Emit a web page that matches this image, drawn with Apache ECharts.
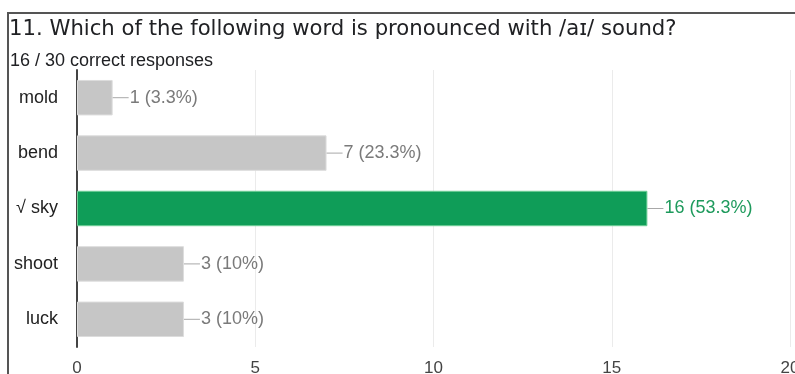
<!DOCTYPE html>
<html>
<head>
<meta charset="utf-8">
<script src="https://cdn.jsdelivr.net/npm/echarts@6/dist/echarts.min.js"></script>
<style>
  html, body { margin: 0; padding: 0; background: #fff; }
  #chart { width: 795px; height: 374px; }
</style>
</head>
<body>
<div id="chart"></div>
<script>
// Quiz question results: answer options and how many respondents chose each
const questionTitle = '11. Which of the following word is pronounced with /aɪ/ sound?';
const totalResponses = 30;
const correctResponses = 16;
const categories = ['mold', 'bend', '√ sky', 'shoot', 'luck'];
const counts = [1, 7, 16, 3, 3];
const correctIndex = 2;
const axisTicks = [0, 5, 10, 15, 20];

const GREY = '#c6c6c6';
const GREEN = '#0f9d58';
const SANS = '"Liberation Sans", Arial, sans-serif';

function pct(v) {
  const p = Math.round(v / totalResponses * 1000) / 10;
  return (p % 1 === 0 ? p.toFixed(0) : p.toFixed(1)) + '%';
}

const barData = counts.map((v, i) => {
  const correct = i === correctIndex;
  return {
    value: v,
    itemStyle: {
      color: correct ? GREEN : GREY,
      borderColor: correct ? '#6fcf97' : '#dcdcdc',
      borderWidth: 1
    },
    label: {
      rich: {
        ln: { width: 16, height: 1, backgroundColor: '#a8a8a8' },
        v: {
          fontFamily: SANS,
          fontSize: 18,
          color: correct ? '#1e9a5c' : '#7a7a7a',
          padding: [0, 0, 0, 1]
        }
      }
    }
  };
});

const chart = echarts.init(document.getElementById('chart'), null, { renderer: 'canvas' });

chart.setOption({
  animation: false,
  backgroundColor: '#fff',
  title: [
    {
      text: questionTitle,
      left: 9,
      top: 19,
      padding: 0,
      textStyle: {
        fontFamily: '"DejaVu Sans", sans-serif',
        fontSize: 21.2,
        fontWeight: 'normal',
        color: '#202124'
      }
    },
    {
      text: correctResponses + ' / ' + totalResponses + ' correct responses',
      left: 10,
      top: 52,
      padding: 0,
      textStyle: {
        fontFamily: SANS,
        fontSize: 18,
        fontWeight: 'normal',
        color: '#202124'
      }
    }
  ],
  graphic: [
    {
      type: 'polyline',
      shape: { points: [[8, 374], [8, 13], [795, 13]] },
      style: { stroke: '#555', lineWidth: 2, fill: null },
      silent: true
    }
  ],
  grid: { left: 77, right: 5, top: 70, bottom: 27, containLabel: false, outerBoundsMode: 'none' },
  xAxis: {
    type: 'value',
    min: axisTicks[0],
    max: axisTicks[axisTicks.length - 1],
    interval: axisTicks[1] - axisTicks[0],
    axisLine: { show: false },
    axisTick: { show: false },
    splitLine: { lineStyle: { color: '#ebebeb', width: 1 } },
    axisLabel: {
      margin: 13,
      fontFamily: SANS,
      fontSize: 17,
      color: '#444'
    }
  },
  yAxis: {
    type: 'category',
    inverse: true,
    data: categories,
    axisLine: { show: true, lineStyle: { color: '#444', width: 2 } },
    axisTick: { show: false },
    axisLabel: {
      margin: 19,
      fontFamily: SANS,
      fontSize: 18,
      color: '#222'
    }
  },
  series: [
    {
      type: 'bar',
      data: barData,
      barCategoryGap: '36%',
      z: 1,
      label: {
        show: true,
        position: 'right',
        distance: 0,
        formatter: p => '{ln|}{v|' + p.value + ' (' + pct(p.value) + ')}'
      }
    }
  ]
});
</script>
</body>
</html>
